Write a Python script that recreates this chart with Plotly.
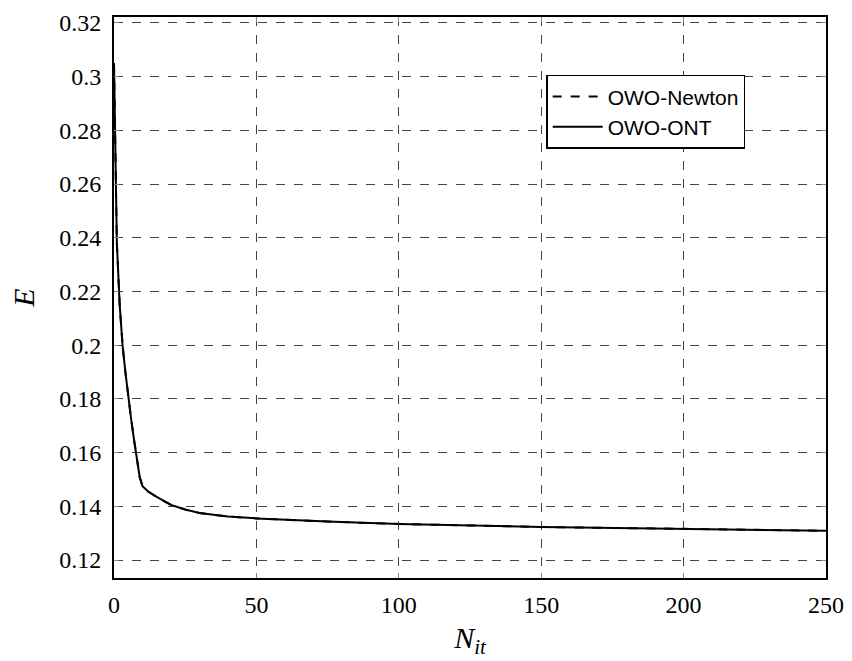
import plotly.graph_objects as go

iters = [0, 1, 2, 3, 4, 5, 6, 7, 8, 9, 10, 12, 15, 20, 25, 30, 40, 50, 75, 100, 150, 200, 250]
owo_newton = [0.305, 0.238, 0.215, 0.200, 0.190, 0.180, 0.1726, 0.165, 0.158, 0.151, 0.1475, 0.1455, 0.1435,
              0.1405, 0.1388, 0.1375, 0.1362, 0.1355, 0.1343, 0.1334, 0.1323, 0.1316, 0.1309]
owo_ont = [0.305, 0.238, 0.215, 0.200, 0.190, 0.180, 0.1726, 0.165, 0.158, 0.151, 0.1475, 0.1455, 0.1435,
           0.1405, 0.1388, 0.1375, 0.1362, 0.1355, 0.1343, 0.1334, 0.1323, 0.1316, 0.1309]

x_ticks = [0, 50, 100, 150, 200, 250]
y_ticks = [0.12, 0.14, 0.16, 0.18, 0.2, 0.22, 0.24, 0.26, 0.28, 0.3, 0.32]
y_ticktext = ["0.12", "0.14", "0.16", "0.18", "0.2", "0.22", "0.24", "0.26", "0.28", "0.3", "0.32"]

fig = go.Figure()
fig.add_trace(go.Scatter(x=iters, y=owo_newton, mode="lines", name="OWO-Newton",
                         line=dict(color="black", width=2, dash="dash")))
fig.add_trace(go.Scatter(x=iters, y=owo_ont, mode="lines", name="OWO-ONT",
                         line=dict(color="black", width=2)))

serif = "Liberation Serif, DejaVu Serif, serif"
axis_common = dict(
    showline=True, linecolor="black", linewidth=2, mirror="ticks",
    ticks="inside", ticklen=5, tickcolor="#888", tickwidth=1,
    showgrid=True, gridcolor="#444", gridwidth=1, griddash="dash",
    zeroline=False, tickfont=dict(family=serif, size=24, color="black"),
    automargin=False,
)

fig.update_layout(
    width=852, height=661,
    margin=dict(l=114, r=26, t=17, b=83),
    paper_bgcolor="white", plot_bgcolor="white",
    xaxis=dict(range=[0, 250], tickvals=x_ticks, ticktext=[str(v) for v in x_ticks],
               ticklabelstandoff=4,
               title=dict(text="<i>N</i><sub><i>it</i></sub>", font=dict(family=serif, size=30, color="black"),
                          standoff=10),
               **axis_common),
    yaxis=dict(range=[0.1133, 0.3222], tickvals=y_ticks, ticktext=y_ticktext,
               ticklabelstandoff=6,
               title=dict(text="<i>E</i>", font=dict(family=serif, size=30, color="black"), standoff=16),
               **axis_common),
    legend=dict(x=0.607, y=0.897, xanchor="left", yanchor="top",
                bgcolor="white", bordercolor="black", borderwidth=1.5,
                font=dict(family="Liberation Sans, Arial, sans-serif", size=21, color="black"),
                itemwidth=50, tracegroupgap=2),
    showlegend=True,
)

fig.write_html("out.html")
